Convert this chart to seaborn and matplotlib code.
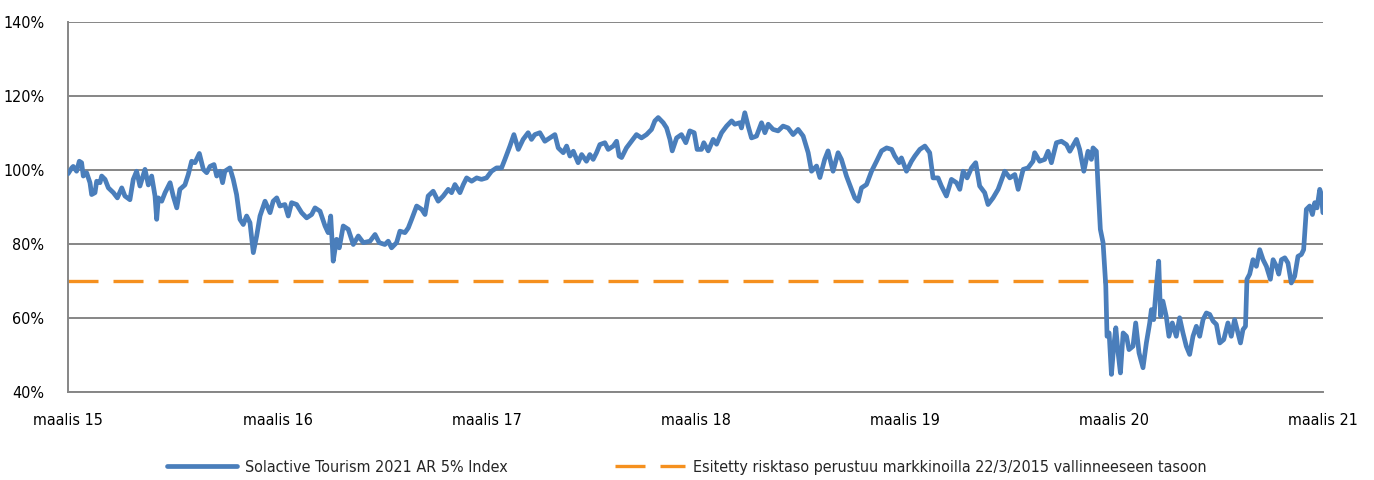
import pandas as pd
import numpy as np
import matplotlib
matplotlib.use("Agg")
import matplotlib.pyplot as plt
from matplotlib import font_manager
import seaborn as sns

# time axis: years elapsed since 1 March 2015
years = [
    0.000, 0.018, 0.025, 0.041, 0.054, 0.065, 0.073, 0.089, 0.105, 0.113, 0.129, 0.137, 0.153, 0.161, 0.177,
    0.193, 0.217, 0.236, 0.257, 0.272, 0.296, 0.312, 0.328, 0.344, 0.368, 0.384, 0.400, 0.416, 0.424, 0.432,
    0.448, 0.464, 0.488, 0.503, 0.520, 0.535, 0.559, 0.575, 0.591, 0.607, 0.628, 0.647, 0.663, 0.679, 0.698,
    0.711, 0.727, 0.739, 0.750, 0.774, 0.790, 0.806, 0.822, 0.838, 0.854, 0.870, 0.886, 0.902, 0.918, 0.942,
    0.966, 0.981, 0.998, 1.013, 1.037, 1.053, 1.069, 1.093, 1.117, 1.141, 1.165, 1.181, 1.205, 1.229, 1.244,
    1.256, 1.268, 1.284, 1.297, 1.316, 1.340, 1.364, 1.388, 1.412, 1.444, 1.468, 1.488,
    1.515, 1.531, 1.547, 1.571, 1.587, 1.611, 1.627, 1.643, 1.667, 1.691, 1.707, 1.722, 1.746, 1.770, 1.794,
    1.818, 1.834, 1.850, 1.874, 1.890, 1.906, 1.930, 1.954, 1.977, 2.001, 2.025, 2.049, 2.073, 2.089, 2.113,
    2.132, 2.153, 2.176, 2.200, 2.216, 2.232, 2.256, 2.280, 2.304, 2.328, 2.344, 2.368, 2.384, 2.400, 2.416,
    2.439, 2.456, 2.479, 2.495, 2.511, 2.527, 2.543, 2.567, 2.583, 2.607, 2.623, 2.635,
    2.647, 2.670, 2.694, 2.718, 2.742, 2.766, 2.790, 2.806, 2.822, 2.846, 2.862, 2.878, 2.889, 2.910, 2.933,
    2.954, 2.973, 2.994, 3.008, 3.029, 3.040, 3.061, 3.085, 3.101, 3.125, 3.149, 3.173, 3.188, 3.212, 3.220,
    3.236, 3.252, 3.268, 3.292, 3.316, 3.332, 3.348, 3.371, 3.395, 3.419, 3.443, 3.467, 3.491, 3.515, 3.539,
    3.555, 3.579, 3.595, 3.618, 3.634, 3.658, 3.682, 3.698, 3.722, 3.746, 3.762, 3.778, 3.794, 3.818, 3.842,
    3.866, 3.890, 3.914, 3.938, 3.953, 3.974,
    3.985, 4.009, 4.033, 4.049, 4.073, 4.097, 4.120, 4.136, 4.160, 4.176, 4.200, 4.224, 4.248, 4.264, 4.280,
    4.299, 4.320, 4.340, 4.359, 4.383, 4.399, 4.423, 4.447, 4.479, 4.503, 4.527, 4.543, 4.567, 4.590, 4.614,
    4.622, 4.646, 4.670, 4.686, 4.702, 4.726, 4.750, 4.774, 4.790, 4.822, 4.837, 4.857, 4.877, 4.893, 4.901,
    4.917,
    4.925, 4.936, 4.949, 4.962, 4.968, 4.978, 4.989, 5.000, 5.010, 5.021, 5.032, 5.045, 5.061, 5.073, 5.092,
    5.105, 5.121, 5.140, 5.156, 5.172, 5.180, 5.191, 5.204, 5.215, 5.224, 5.235, 5.251, 5.264, 5.280, 5.299,
    5.315, 5.331, 5.347, 5.363, 5.379, 5.395, 5.411, 5.427, 5.443, 5.459, 5.475, 5.491, 5.507, 5.526, 5.546,
    5.562, 5.578, 5.594, 5.606, 5.618, 5.630, 5.637, 5.650, 5.666, 5.682, 5.698, 5.714, 5.730, 5.749, 5.762,
    5.778, 5.789, 5.802, 5.818, 5.833, 5.849, 5.865, 5.881, 5.897, 5.908, 5.921, 5.937, 5.950, 5.961, 5.972,
    5.985, 5.993, 6.000,
]

# index level in percent
index_pct = [
    99.0, 100.6, 101.0, 99.7, 102.4, 102.0, 98.4, 99.3, 96.6, 93.4, 93.9, 97.0, 96.6, 98.4, 97.5,
    95.2, 93.9, 92.5, 95.2, 93.0, 92.0, 97.5, 99.7, 95.7, 100.2, 96.0, 98.4, 93.0, 86.7, 92.5,
    91.6, 93.9, 96.6, 93.0, 89.8, 94.8, 96.0, 98.8, 102.4, 102.0, 104.5, 100.2, 99.3, 101.0, 101.5,
    98.4, 99.7, 96.6, 99.7, 100.6, 97.5, 93.4, 86.7, 85.3, 87.6, 85.8, 77.7, 82.2, 87.6, 91.6,
    88.5, 91.6, 92.5, 90.3, 90.7, 87.6, 91.2, 90.7, 88.5, 87.1, 88.0, 89.8, 88.9, 84.9, 83.1,
    87.6, 75.4, 81.3, 79.0, 84.9, 84.0, 79.9, 82.2, 80.4, 80.8, 82.6, 80.4,
    79.9, 80.8, 79.0, 80.4, 83.5, 83.1, 84.4, 86.7, 90.3, 89.4, 88.0, 93.0, 94.3, 91.6, 93.0,
    94.8, 93.9, 96.1, 93.9, 96.1, 97.9, 97.0, 97.9, 97.5, 97.9, 99.7, 100.6, 100.6, 102.9, 106.5,
    109.6, 105.6, 108.3, 110.1, 108.3, 109.6, 110.1, 107.8, 108.7, 109.6, 106.0, 104.7, 106.5, 103.8, 105.1,
    102.0, 104.2, 102.4, 104.2, 102.9, 104.7, 106.9, 107.4, 105.6, 106.5, 107.8, 103.8,
    103.4, 106.0, 107.8, 109.6, 108.7, 109.6, 111.0, 113.3, 114.2, 112.8, 111.4, 108.3, 105.2, 108.7, 109.6,
    107.4, 110.6, 110.1, 105.6, 105.6, 107.4, 105.2, 108.3, 107.0, 110.1, 111.9, 113.3, 112.4, 112.8, 111.4,
    115.5, 111.9, 108.7, 109.2, 112.8, 110.1, 112.4, 111.0, 110.6, 111.9, 111.4, 109.6, 111.0, 109.2, 104.7,
    99.7, 101.1, 98.0, 102.9, 105.2, 99.7, 104.7, 102.9, 98.4, 94.8, 92.5, 91.6, 95.2, 96.1, 99.7,
    102.4, 105.2, 106.0, 105.6, 103.8, 102.0,
    103.3, 99.7, 102.4, 103.8, 105.6, 106.5, 104.7, 97.9, 97.9, 95.7, 93.0, 97.5, 96.6, 94.8, 99.7,
    97.9, 100.6, 102.0, 95.7, 93.9, 90.7, 92.5, 94.8, 99.7, 97.9, 98.8, 94.8, 100.2, 100.6, 102.4,
    104.7, 102.4, 102.9, 105.1, 102.0, 107.4, 107.8, 106.9, 105.1, 108.3, 105.6, 99.7, 105.1, 102.9, 106.0,
    105.1,
    95.7, 84.0, 80.4, 68.7, 55.1, 56.0, 44.8, 52.4, 57.4, 50.6, 45.2, 56.0, 55.1, 51.5, 52.4,
    58.7, 50.6, 46.6, 53.3, 58.7, 62.3, 59.6, 68.7, 75.4, 60.5, 64.6, 60.5, 55.1, 58.7, 55.1,
    60.1, 56.0, 52.4, 50.2, 55.1, 57.8, 55.1, 59.6, 61.4, 61.0, 59.2, 58.3, 53.3, 54.2, 58.7,
    55.1, 59.6, 56.0, 53.3, 56.9, 57.8, 70.5, 71.9, 75.8, 74.0, 78.5, 75.8, 74.0, 70.5, 75.8,
    74.0, 71.9, 75.8, 76.3, 74.9, 69.5, 71.3, 76.7, 77.2, 78.5, 89.4, 90.3, 88.0, 91.2, 89.8,
    94.8, 93.4, 88.5,
]

risk_level = 70
year_labels = ["maalis 15", "maalis 16", "maalis 17", "maalis 18", "maalis 19", "maalis 20", "maalis 21"]
series_name = "Solactive Tourism 2021 AR 5% Index"
risk_name = "Esitetty risktaso perustuu markkinoilla 22/3/2015 vallinneeseen tasoon"

start = pd.Timestamp("2015-03-01")
df = pd.DataFrame({
    "date": start + pd.to_timedelta(np.array(years) * 365.25, unit="D"),
    "value": index_pct,
})

sns.set_style("white")

# the original uses a narrow typeface; take a condensed one if the system has it
narrow = None
for f in font_manager.fontManager.ttflist:
    fn = f.fname.lower()
    if ("condensed" in fn or "narrow" in fn) and "bold" not in fn and "italic" not in fn and "oblique" not in fn:
        narrow = f
        break
if narrow is not None:
    plt.rcParams["font.family"] = [narrow.name, "DejaVu Sans"]
    plt.rcParams["font.stretch"] = narrow.stretch
    tick_size, legend_size = 11.5, 11.5
else:
    plt.rcParams["font.family"] = ["Liberation Sans", "DejaVu Sans"]
    tick_size, legend_size = 10.5, 9.5

fig = plt.figure(figsize=(13.74, 4.8), dpi=100)
ax = fig.add_axes([0.0495, 0.183, 0.9135, 0.771])

grid_col = "#868686"
blue = "#4A7EBB"
orange = "#F5901E"

sns.lineplot(data=df, x="date", y="value", ax=ax, color=blue, linewidth=3.4,
             label=series_name, zorder=3)
ax.axhline(risk_level, color=orange, linewidth=2.4, dashes=(9, 4.5), label=risk_name, zorder=2)

ax.set_ylim(40, 140)
ax.set_yticks(range(40, 141, 20))
ax.set_yticklabels([f"{v}%" for v in range(40, 141, 20)])
ax.yaxis.grid(True, color=grid_col, linewidth=1.4)
ax.set_axisbelow(True)

ticks = [pd.Timestamp(f"{y}-03-01") for y in range(2015, 2022)]
ax.set_xlim(ticks[0], ticks[-1])
ax.set_xticks(ticks)
ax.set_xticklabels(year_labels)

for s in ["top", "right"]:
    ax.spines[s].set_visible(False)
for s in ["left", "bottom"]:
    ax.spines[s].set_color(grid_col)
    ax.spines[s].set_linewidth(1.4)

ax.tick_params(axis="both", which="major", length=6, width=1.4, color=grid_col,
               labelsize=tick_size, labelcolor="black", direction="out")
ax.tick_params(axis="x", pad=9)
ax.tick_params(axis="y", pad=11)
ax.set_xlabel("")
ax.set_ylabel("")

handles, labels = ax.get_legend_handles_labels()
ax.get_legend().remove()
fig.legend(handles, labels, loc="center", bbox_to_anchor=(0.5, 0.027), ncol=2, frameon=False,
           fontsize=legend_size, handlelength=4.4, handletextpad=0.5, columnspacing=6.7)

fig.savefig("out.png", dpi=100)
